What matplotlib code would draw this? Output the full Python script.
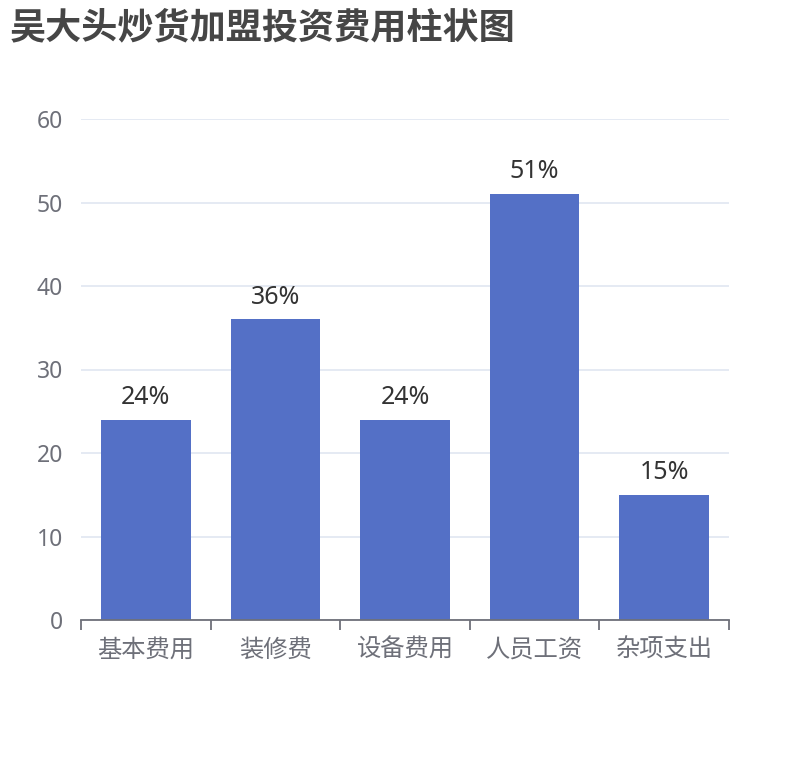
import matplotlib
matplotlib.use("Agg")
import matplotlib.pyplot as plt

categories = ["基本费用", "装修费", "设备费用", "人员工资", "杂项支出"]
values = [24, 36, 24, 51, 15]
labels = ["24%", "36%", "24%", "51%", "15%"]
yticks = [0, 10, 20, 30, 40, 50, 60]
title = "吴大头炒货加盟投资费用柱状图"

plt.rcParams['font.family'] = ['Noto Sans CJK SC', 'DejaVu Sans']
latin = ['Noto Sans', 'Noto Sans CJK SC']

fig = plt.figure(figsize=(8.1, 7.6), dpi=100)
ax = fig.add_axes([0.1, 1 - 620/760, 0.8, (620-119)/760])

x = list(range(len(categories)))
bars = ax.bar(x, values, width=0.69, color="#5470c6", zorder=3)
for xi, v, lab in zip(x, values, labels):
    ax.annotate(lab, (xi, v), xytext=(0, 7), textcoords="offset points",
                ha="center", va="bottom", fontsize=18, color="#333333", family=latin)

ax.set_xlim(-0.5, len(categories) - 0.5)
ax.set_ylim(0, 60)
ax.set_yticks(yticks)
ax.set_yticklabels([str(t) for t in yticks], family=latin)
ax.set_xticks([i - 0.5 for i in range(len(categories) + 1)], minor=False)
ax.set_xticklabels([])
ax.set_xticks(x, minor=True)
ax.set_xticklabels(categories, minor=True)
ax.tick_params(axis="x", which="major", length=7, width=1.3, color="#6E7079", direction="out")
ax.tick_params(axis="x", which="minor", length=0, pad=12, labelsize=17.5, labelcolor="#6E7079")
ax.tick_params(axis="y", length=0, pad=13, labelsize=16.5, labelcolor="#6E7079")

ax.grid(axis="y", color="#E0E6F1", linewidth=1.2, zorder=0)
for s in ["top", "right", "left"]:
    ax.spines[s].set_visible(False)
ax.spines["bottom"].set_color("#6E7079")
ax.spines["bottom"].set_linewidth(1.3)
ax.spines["bottom"].set_zorder(4)

fig.text(10/810, 1 - 28/760, title, fontsize=26, fontweight="bold", color="#464646",
         ha="left", va="center")

fig.savefig("out.png", dpi=100)
